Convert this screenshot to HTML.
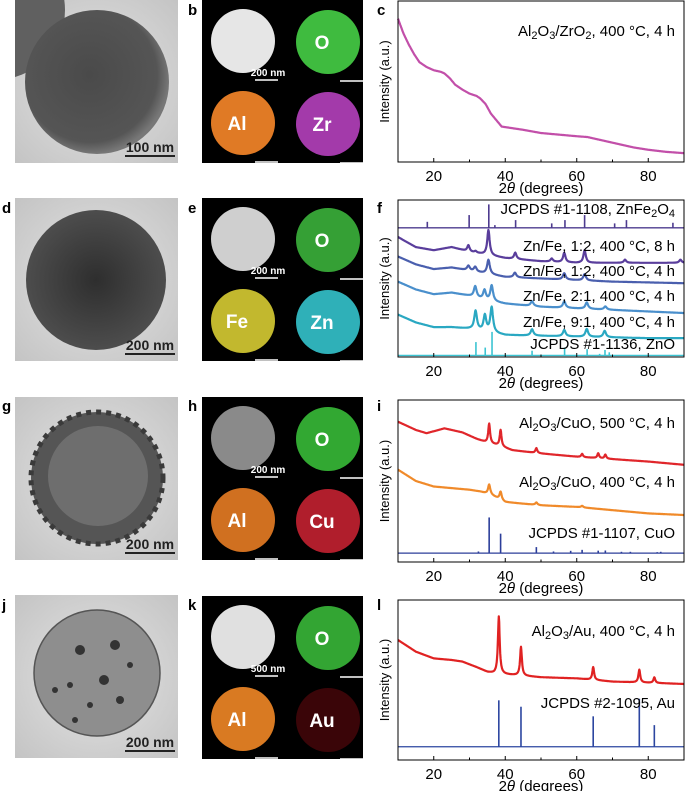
<!DOCTYPE html>
<html><head><meta charset="utf-8"><style>
html,body{margin:0;padding:0;background:#fff}
svg{display:block;font-family:"Liberation Sans",sans-serif}
</style></head><body>
<svg id="fig" width="685" height="791" viewBox="0 0 685 791" xmlns="http://www.w3.org/2000/svg">
<defs>
<radialGradient id="bgLight" cx="50%" cy="50%" r="70%"><stop offset="0" stop-color="#e4e4e4"/><stop offset="1" stop-color="#c4c4c4"/></radialGradient>
<radialGradient id="sphDark" cx="45%" cy="45%" r="55%"><stop offset="0" stop-color="#4a4a4a"/><stop offset="0.85" stop-color="#555"/><stop offset="1" stop-color="#777"/></radialGradient>
<radialGradient id="sphD" cx="50%" cy="50%" r="55%"><stop offset="0" stop-color="#2e2e2e"/><stop offset="1" stop-color="#505050"/></radialGradient>
</defs>
<g id="images"></g>
<g id="charts"></g>
</svg>
<script>
// ---------- chart data ----------
const xTicks = [20, 40, 60, 80];
const xMinor = [30, 50, 70];
// panel c
const cBgX = [10,11.5,13,14.5,16,18,20,22,23,24.5,26,28,30,32,33,34.5,36,37.5,39,42,45,50,55,60,63,66,69,72,76,80,85,90];
const cBgY = [89,80,73,67,62,59,57,56,55,52,48,45,42.5,41,39.5,36,30,26,22,21,20,18,17,16,15.5,14,12.5,11,9,7.6,6.3,5.5];
// panel f
const fZnFeStickX = [18.2,29.9,35.4,37.1,42.9,53,56.7,62.2,70.6,73.9,86.9];
const fZnFeStickH = [3.8,8.1,14.9,1.7,4.9,2.8,4.9,8.1,2.8,4.9,3.2];
const fZnFeBase = 82.3;
const f8hBgX = [10,15,20,25,30,35,40,45,50,60,70,80,90];
const f8hBgY = [76.4,70,68,70,67,65,63,62,61,60,60,60,60];
const f8hPkX = [29.7,31.7,35.3,42.8,53,56.5,62.2,73.5,89];
const f8hPkH = [4,1,16,4,2,6,8,2,2];
const f4hBgX = [10,15,20,25,30,35,40,50,60,70,80,90];
const f4hBgY = [64,59,56,57,55,53,51,50,49,48,47.5,47];
const f4hPkX = [29.7,31.6,35.3,42.7,56.5,62.2];
const f4hPkH = [3,3,9,3,4,4];
const f21BgX = [10,15,20,25,30,35,40,50,60,70,80,90];
const f21BgY = [48,43,40,41,39,36,34,32,31,30,29,28];
const f21PkX = [31.6,34.2,36.2,47.5,56.5,62.8,68];
const f21PkH = [7,6,10,3,4,4,2];
const f91BgX = [10,15,20,25,30,35,40,50,60,70,80,90];
const f91BgY = [27,22,19,19,18,16,14,13.5,13,12.5,12,12];
const f91PkX = [31.7,34.3,36.2,47.5,56.5,62.8,67.8];
const f91PkH = [12,10,16,4,4,5,4];
const fZnOStickX = [31.8,34.4,36.3,47.5,56.6,62.9,66.4,67.9,69.1];
const fZnOStickH = [8.5,5,15,3,5,4,1,3.5,2];
const fZnOBase = 1;
// panel i
const i500BgX = [10,15,18,23,28,32,34.5,38,42,50,60,70,80,90];
const i500BgY = [86.6,81.5,79.5,82.5,80,76,74,72,69,67,65,63.5,62,60];
const i500PkX = [35.5,38.7,48.7,61.5,66,68];
const i500PkH = [12,10,3,2,3,2.5];
const i400BgX = [10,15,20,30,33,36,40,50,60,70,80,90];
const i400BgY = [57,50,46.6,44.6,43.5,41.5,37,35,34,32,30,29];
const i400PkX = [35.5,38.7,48.7,61.5];
const i400PkH = [6,5,1.5,1];
const iCuOStickX = [32.5,35.5,38.7,48.7,53.5,58.3,61.5,66,68,72.5,75,82.5,83.5];
const iCuOStickH = [1,22,12,3.7,1,1.4,2,1.5,1.6,0.8,0.8,0.6,0.8];
const iCuOBase = 5.5;
// panel l
const lBgX = [10,15,20,25,28,32,35,37,40,50,60,70,80,90];
const lBgY = [75,67.7,63.5,62.5,61.5,58,55,54,53.5,51.7,51,49,48.3,47.5];
const lPkX = [38.2,44.4,64.6,77.5,81.7];
const lPkH = [36,18,8,8,3.5];
const lAuStickX = [38.2,44.4,64.6,77.5,81.7];
const lAuStickH = [29,25,19,30,13.5];
const lAuBase = 8.3;

const NS = "http://www.w3.org/2000/svg";
function mk(tag, attrs, parent){const e=document.createElementNS(NS,tag);for(const k in attrs)e.setAttribute(k,attrs[k]);if(parent)parent.appendChild(e);return e;}
function interp(xs, ys, x){if(x<=xs[0])return ys[0];for(let i=1;i<xs.length;i++){if(x<=xs[i]){const t=(x-xs[i-1])/(xs[i]-xs[i-1]);return ys[i-1]+t*(ys[i]-ys[i-1]);}}return ys[ys.length-1];}

function makeAxes(top, bottom){
  const L=398, R=684;
  const sx = d => L + (d-10)/80*(R-L);
  const sy = v => bottom - v/100*(bottom-top);
  return {L,R,top,bottom,sx,sy};
}
function drawFrame(g, ax, name){
  const f = mk('g', {}, g);
  
  
  mk('rect',{x:ax.L,y:ax.top,width:ax.R-ax.L,height:ax.bottom-ax.top,fill:'none',stroke:'#000','stroke-width':1},f);
  xTicks.forEach(t=>{
    const x=ax.sx(t);
    mk('line',{x1:x,x2:x,y1:ax.bottom,y2:ax.bottom-4,stroke:'#000','stroke-width':1},f);
    const tl=mk('text',{x:x,y:ax.bottom+19,'font-size':15,'text-anchor':'middle',fill:'#000'},f);
    
    
    tl.textContent=t;
  });
  xMinor.forEach(t=>{const x=ax.sx(t);mk('line',{x1:x,x2:x,y1:ax.bottom,y2:ax.bottom-2.5,stroke:'#000','stroke-width':1},f);});
  const xt=mk('text',{x:(ax.L+ax.R)/2,y:ax.bottom+31,'font-size':15,'text-anchor':'middle',fill:'#000'},f);
  
  
  xt.innerHTML='2<tspan font-style="italic">θ</tspan> (degrees)';
  const cy=(ax.top+ax.bottom)/2;
  const yt=mk('text',{x:389,y:cy,'font-size':13,'text-anchor':'middle',fill:'#000',transform:`rotate(-90 389 ${cy})`},f);
  
  
  yt.textContent='Intensity (a.u.)';
}
function drawCurve(g, ax, bgX, bgY, pkX, pkH, color, w, name){
  let d='';
  for(let x=10;x<=90.001;x+=0.1){
    let v=interp(bgX,bgY,x);
    for(let i=0;i<pkX.length;i++){const u=(x-pkX[i])/w;v+=pkH[i]/(1+u*u);}
    d+=(d?'L':'M')+ax.sx(x).toFixed(1)+' '+ax.sy(v).toFixed(1);
  }
  const p=mk('path',{d:d,fill:'none',stroke:color,'stroke-width':2.2,'stroke-linejoin':'round'},g);
  
  
}
function drawSticks(g, ax, sX, sH, base, color, name){
  const s=mk('g',{},g);
  
  
  mk('line',{x1:ax.L,x2:ax.R,y1:ax.sy(base),y2:ax.sy(base),stroke:color,'stroke-width':1.3},s);
  sX.forEach((x,i)=>{
    const l=mk('line',{x1:ax.sx(x),x2:ax.sx(x),y1:ax.sy(base),y2:ax.sy(base+sH[i]),stroke:color,'stroke-width':1.6},s);
    
    
  });
}
function label(g, y, html, name){
  const t=mk('text',{x:675,y:y,'font-size':15,'text-anchor':'end',fill:'#000'},g);
  
  
  t.innerHTML=html;
}
const sub = s => `<tspan font-size="11" baseline-shift="-3">${s}</tspan>`;
const charts=document.getElementById('charts');

// c
let g=mk('g',{},charts);  
let ax=makeAxes(1,162);
drawCurve(g,ax,cBgX,cBgY,[],[], '#c24fa9',1,'series-al2o3-zro2');
drawFrame(g,ax,'chart-c');
label(g,36,'Al'+sub('2')+'O'+sub('3')+'/ZrO'+sub('2')+', 400 °C, 4 h','label-al2o3-zro2');

// f
g=mk('g',{},charts);  
ax=makeAxes(200,357);
drawSticks(g,ax,fZnOStickX,fZnOStickH,fZnOBase,'#3cc4d2','sticks-zno');
drawCurve(g,ax,f91BgX,f91BgY,f91PkX,f91PkH,'#2aa8c2',0.45,'series-znfe-9-1');
drawCurve(g,ax,f21BgX,f21BgY,f21PkX,f21PkH,'#4a8fcc',0.45,'series-znfe-2-1');
drawCurve(g,ax,f4hBgX,f4hBgY,f4hPkX,f4hPkH,'#4a5fae',0.45,'series-znfe-1-2-4h');
drawCurve(g,ax,f8hBgX,f8hBgY,f8hPkX,f8hPkH,'#5a3e9c',0.4,'series-znfe-1-2-8h');
drawSticks(g,ax,fZnFeStickX,fZnFeStickH,fZnFeBase,'#4d3b8f','sticks-znfe2o4');
drawFrame(g,ax,'chart-f');
label(g,214,'JCPDS #1-1108, ZnFe'+sub('2')+'O'+sub('4'),'label-znfe2o4');
label(g,251,'Zn/Fe, 1:2, 400 °C, 8 h','label-8h');
label(g,276,'Zn/Fe, 1:2, 400 °C, 4 h','label-4h');
label(g,301,'Zn/Fe, 2:1, 400 °C, 4 h','label-2-1');
label(g,327,'Zn/Fe, 9:1, 400 °C, 4 h','label-9-1');
label(g,349,'JCPDS #1-1136, ZnO','label-zno');

// i
g=mk('g',{},charts);  
ax=makeAxes(400,562);
drawSticks(g,ax,iCuOStickX,iCuOStickH,iCuOBase,'#2c3e9a','sticks-cuo');
drawCurve(g,ax,i400BgX,i400BgY,i400PkX,i400PkH,'#f08a2a',0.35,'series-cuo-400');
drawCurve(g,ax,i500BgX,i500BgY,i500PkX,i500PkH,'#e0262b',0.3,'series-cuo-500');
drawFrame(g,ax,'chart-i');
label(g,428,'Al'+sub('2')+'O'+sub('3')+'/CuO, 500 °C, 4 h','label-cuo-500');
label(g,487,'Al'+sub('2')+'O'+sub('3')+'/CuO, 400 °C, 4 h','label-cuo-400');
label(g,538,'JCPDS #1-1107, CuO','label-cuo-ref');

// l
g=mk('g',{},charts);  
ax=makeAxes(600,760);
drawSticks(g,ax,lAuStickX,lAuStickH,lAuBase,'#2c46a0','sticks-au');
drawCurve(g,ax,lBgX,lBgY,lPkX,lPkH,'#e02222',0.3,'series-au');
drawFrame(g,ax,'chart-l');
label(g,636,'Al'+sub('2')+'O'+sub('3')+'/Au, 400 °C, 4 h','label-au');
label(g,708,'JCPDS #2-1095, Au','label-au-ref');

// ---------- images ----------
const imgs=document.getElementById('images');
function panelLetter(x,y,t){const e=mk('text',{x:x,y:y,'font-size':15,'font-weight':'bold',fill:'#000'},imgs);e.textContent=t;}
[['a',2,15],['b',188,15],['c',377,15],['d',2,213],['e',188,213],['f',377,213],['g',2,411],['h',188,411],['i',377,411],['j',2,610],['k',188,610],['l',377,610]].forEach(a=>panelLetter(a[1],a[2],a[0]));

function tem(y, name, draw, bar){
  const t=mk('g',{},imgs);
  
  
  mk('rect',{x:15,y:y,width:163,height:163,fill:'url(#bgLight)'},t);
  draw(t);
  mk('line',{x1:125,x2:175,y1:y+156,y2:y+156,stroke:'#222','stroke-width':2},t);
  const s=mk('text',{x:150,y:y+152,'font-size':14,'font-weight':'bold','text-anchor':'middle',fill:'#222'},t);
  
  
  s.textContent=bar;
}
tem(0,'tem-image-a',t=>{
  mk('circle',{cx:-5,cy:10,r:70,fill:'#606060'},t);
  mk('rect',{x:0,y:0,width:15,height:100,fill:'#fff'},t);
  mk('circle',{cx:97,cy:82,r:72,fill:'url(#sphDark)'},t);
},'100 nm');
tem(198,'tem-image-d',t=>{mk('circle',{cx:96,cy:280,r:70,fill:'url(#sphD)'},t);},'200 nm');
tem(397,'tem-image-g',t=>{
  mk('circle',{cx:97,cy:478,r:66,fill:'#555',stroke:'#3a3a3a','stroke-width':5,'stroke-dasharray':'5 5'},t);
  mk('circle',{cx:98,cy:476,r:50,fill:'#6e6e6e'},t);
},'200 nm');
tem(595,'tem-image-j',t=>{
  mk('circle',{cx:97,cy:673,r:63,fill:'#8e8e8e',stroke:'#555','stroke-width':1.5},t);
  [[80,650,5],[115,645,5],[104,680,5],[70,685,3],[120,700,4],[90,705,3],[55,690,3],[130,665,3],[75,720,3]].forEach(p=>mk('circle',{cx:p[0],cy:p[1],r:p[2],fill:'#333'},t));
},'200 nm');

function eds(y, name, cols, labels, bar){
  const t=mk('g',{},imgs);
  
  
  mk('rect',{x:202,y:y,width:161,height:163,fill:'#000'},t);
  const pos=[[243,y+41],[328,y+42],[243,y+123],[328,y+124]];
  pos.forEach((p,i)=>{
    mk('circle',{cx:p[0],cy:p[1],r:32,fill:cols[i]},t);
    if(labels[i]){const l=mk('text',{x:p[0]-6,y:p[1]+7,'font-size':19,'font-weight':'bold','text-anchor':'middle',fill:'#fff'},t);
      
      
      l.textContent=labels[i];}
    mk('line',{x1:p[0]+12,x2:p[0]+35,y1:p[1]+39,y2:p[1]+39,stroke:'#fff','stroke-width':1.5},t);
  });
  const s=mk('text',{x:268,y:y+76,'font-size':10,'font-weight':'bold','text-anchor':'middle',fill:'#fff'},t);
  
  
  s.textContent=bar;
}
eds(0,'eds-map-b',['#e6e6e6','#3fbb3f','#e07a25','#a33aaa'],['','O','Al','Zr'],'200 nm');
eds(198,'eds-map-e',['#cfcfcf','#35a035','#c2b82e','#2fb0b8'],['','O','Fe','Zn'],'200 nm');
eds(397,'eds-map-h',['#8a8a8a','#32a832','#d07020','#b01e2c'],['','O','Al','Cu'],'200 nm');
eds(596,'eds-map-k',['#e0e0e0','#33a533','#d97a22','#3a0508'],['','O','Al','Au'],'500 nm');
</script>
</body></html>
